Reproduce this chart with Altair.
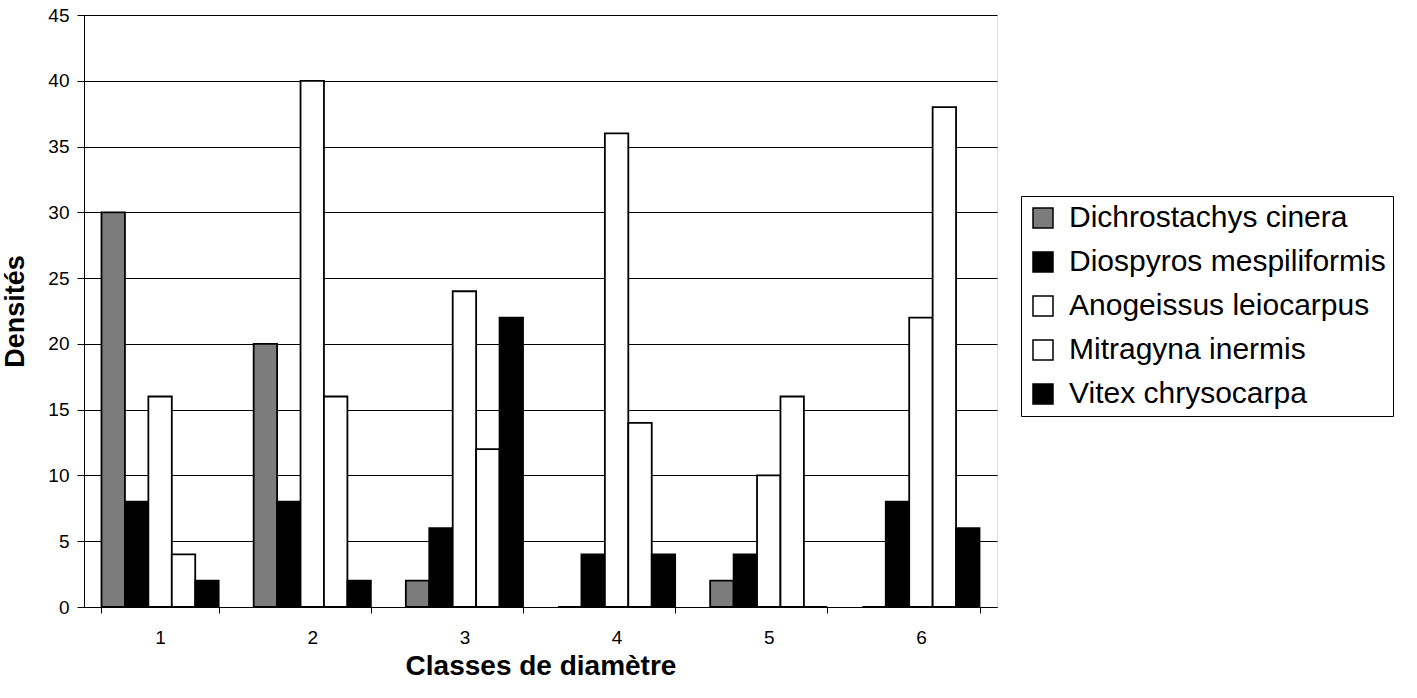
import altair as alt
import pandas as pd

classes = ["1", "2", "3", "4", "5", "6"]
species = [
    "Dichrostachys cinera",
    "Diospyros mespiliformis",
    "Anogeissus leiocarpus",
    "Mitragyna inermis",
    "Vitex chrysocarpa",
]
dichrostachys = [30, 20, 2, 0, 2, 0]
diospyros = [8, 8, 6, 4, 4, 8]
anogeissus = [16, 40, 24, 36, 10, 22]
mitragyna = [4, 16, 12, 14, 16, 38]
vitex = [2, 2, 22, 4, 0, 6]
colors = ["#7c7c7c", "#000000", "#ffffff", "#ffffff", "#000000"]
y_ticks = [0, 5, 10, 15, 20, 25, 30, 35, 40, 45]

series = [dichrostachys, diospyros, anogeissus, mitragyna, vitex]
rows = []
for sp, vals in zip(species, series):
    for c, v in zip(classes, vals):
        rows.append({"classe": c, "espece": sp, "densite": v})
df = pd.DataFrame(rows)

FONT = "Liberation Sans"

chart = alt.Chart(df).mark_bar(stroke="black", strokeWidth=1.8).encode(
    x=alt.X(
        "classe:N",
        sort=classes,
        scale=alt.Scale(paddingInner=0.23, paddingOuter=0.115),
        axis=alt.Axis(
            title="Classes de diamètre",
            labelAngle=0,
            tickBand="extent",
            grid=False,
            domainColor="black",
            tickColor="black",
            tickSize=6,
            labelPadding=15,
            labelFontSize=19,
            labelColor="black",
            labelFont=FONT,
            titleFont=FONT,
            titleFontSize=28,
            titleFontWeight="bold",
            titleColor="black",
            titlePadding=5,
        ),
    ),
    xOffset=alt.XOffset("espece:N", sort=species, scale=alt.Scale(paddingInner=0, paddingOuter=0)),
    y=alt.Y(
        "densite:Q",
        scale=alt.Scale(domain=[0, 45], nice=False),
        axis=alt.Axis(
            title="Densités",
            values=y_ticks,
            grid=True,
            gridColor="black",
            gridWidth=1,
            domainColor="black",
            tickColor="black",
            tickSize=7,
            labelPadding=8,
            labelFontSize=19,
            labelColor="black",
            labelFont=FONT,
            titleFont=FONT,
            titleFontSize=27,
            titleFontWeight="bold",
            titleColor="black",
            titlePadding=18,
        ),
    ),
    color=alt.Color(
        "espece:N",
        sort=species,
        scale=alt.Scale(domain=species, range=colors),
        legend=alt.Legend(
            title=None,
            orient="none",
            legendX=937,
            legendY=181,
            strokeColor="black",
            fillColor="white",
            padding=7,
            symbolType="square",
            symbolSize=400,
            symbolStrokeColor="black",
            symbolStrokeWidth=1.5,
            symbolOpacity=1,
            labelFont=FONT,
            labelFontSize=30,
            labelColor="black",
            labelOffset=11,
            labelLimit=0,
            rowPadding=14,
        ),
    ),
).properties(
    width=913,
    height=592,
    padding={"left": 84, "top": 15, "right": 420, "bottom": 91},
    autosize=alt.AutoSizeParams(type="none"),
).configure_view(stroke="black", strokeWidth=1).configure(background="white")

chart.save("out.html", embed_options={"renderer": "svg", "actions": False})
